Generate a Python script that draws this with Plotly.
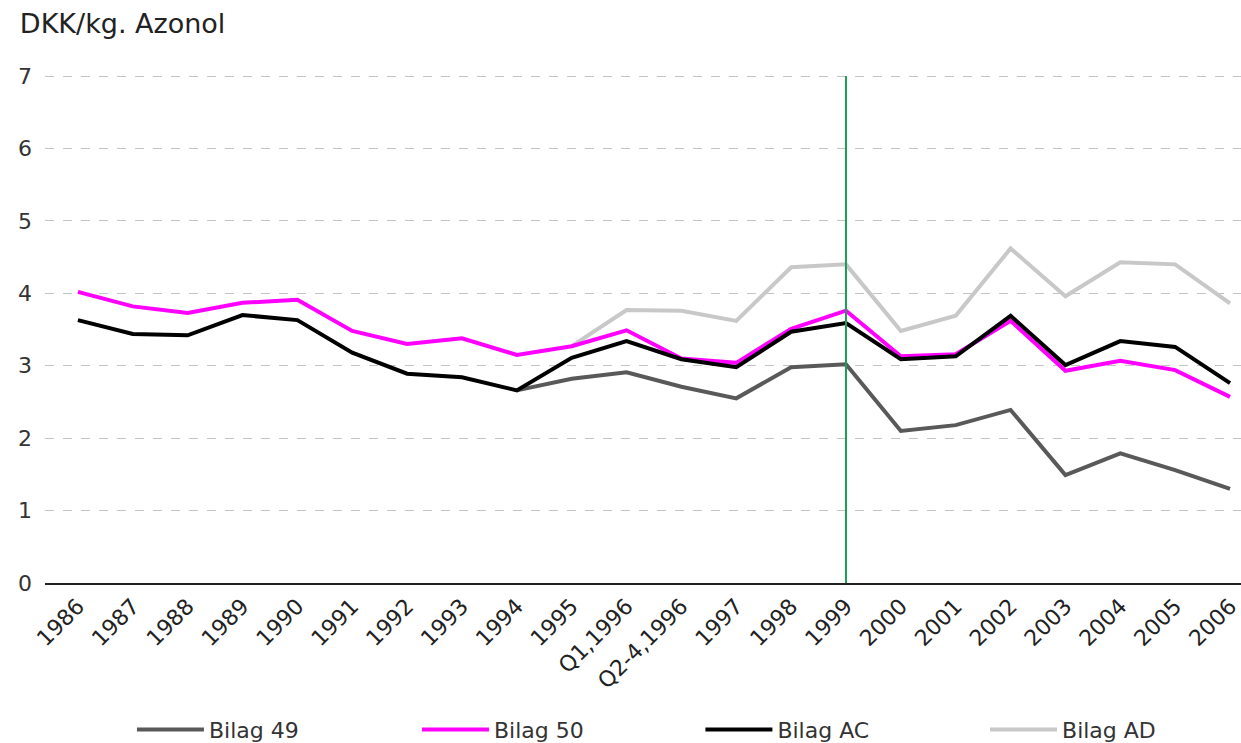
import plotly.graph_objects as go

categories = ["1986", "1987", "1988", "1989", "1990", "1991", "1992", "1993", "1994",
              "1995", "Q1,1996", "Q2-4,1996", "1997", "1998", "1999", "2000", "2001",
              "2002", "2003", "2004", "2005", "2006"]

bilag_49 = [None, None, None, None, None, None, None, None, 2.66,
            2.82, 2.91, 2.71, 2.55, 2.98, 3.02, 2.10, 2.18, 2.39, 1.49, 1.79, 1.56, 1.30]
bilag_50 = [4.02, 3.82, 3.73, 3.87, 3.91, 3.48, 3.30, 3.38, 3.15,
            3.27, 3.49, 3.10, 3.04, 3.51, 3.76, 3.13, 3.16, 3.62, 2.93, 3.07, 2.94, 2.57]
bilag_ac = [3.63, 3.44, 3.42, 3.70, 3.63, 3.18, 2.89, 2.84, 2.66,
            3.11, 3.34, 3.09, 2.98, 3.47, 3.59, 3.09, 3.13, 3.69, 3.01, 3.34, 3.26, 2.76]
bilag_ad = [None, None, None, None, None, None, None, None, None,
            3.27, 3.77, 3.76, 3.62, 4.36, 4.40, 3.48, 3.69, 4.62, 3.96, 4.43, 4.40, 3.86]

marker_year = "1999"
marker_idx = categories.index(marker_year)

fig = go.Figure()
fig.add_trace(go.Scatter(x=categories, y=bilag_ad, name="Bilag AD", mode="lines",
                         line=dict(color="#c8c8c8", width=4), legend="legend4"))
fig.add_trace(go.Scatter(x=categories, y=bilag_49, name="Bilag 49", mode="lines",
                         line=dict(color="#595959", width=4), legend="legend"))
fig.add_trace(go.Scatter(x=categories, y=bilag_50, name="Bilag 50", mode="lines",
                         line=dict(color="#ff00ff", width=4), legend="legend2"))
fig.add_trace(go.Scatter(x=categories, y=bilag_ac, name="Bilag AC", mode="lines",
                         line=dict(color="#000000", width=4), legend="legend3"))

fig.add_shape(type="line", xref="x", yref="y", x0=marker_idx, x1=marker_idx,
              y0=0, y1=7, line=dict(color="#1e9e55", width=2), layer="above")

leg_common = dict(orientation="h", xanchor="left", y=-0.289, yanchor="middle",
                  itemwidth=67, bgcolor="rgba(0,0,0,0)",
                  font=dict(size=22, color="#333333"))
legend_x = [0.0727, 0.311, 0.548, 0.786]

fig.update_layout(
    width=1241, height=743,
    margin=dict(l=45, r=0, t=75, b=160, autoexpand=False),
    paper_bgcolor="white", plot_bgcolor="white",
    font=dict(family="DejaVu Sans", size=22, color="#333333"),
    title=dict(text="DKK/kg. Azonol", x=0.016, xanchor="left", y=0.968, yanchor="middle",
               font=dict(size=27, color="#222222")),
    showlegend=True,
    legend=dict(x=legend_x[0], **leg_common),
    legend2=dict(x=legend_x[1], **leg_common),
    legend3=dict(x=legend_x[2], **leg_common),
    legend4=dict(x=legend_x[3], **leg_common),
    xaxis=dict(type="category", range=[-0.6, 21.2], tickangle=-45, automargin=False,
               showgrid=False, showline=True, linecolor="#222222", linewidth=1.5,
               ticks="", tickfont=dict(size=22, color="#222222")),
    yaxis=dict(range=[0, 7.015], tickvals=[0, 1, 2, 3, 4, 5, 6, 7], showgrid=True,
               gridcolor="#c4c4c4", griddash="dash", gridwidth=1, zeroline=False,
               showline=False, ticks="", ticklabelstandoff=12, automargin=False,
               tickfont=dict(size=22, color="#333333")),
)

fig.write_html("out.html", config={"displayModeBar": False},
               post_script="document.body.style.margin='0';")
